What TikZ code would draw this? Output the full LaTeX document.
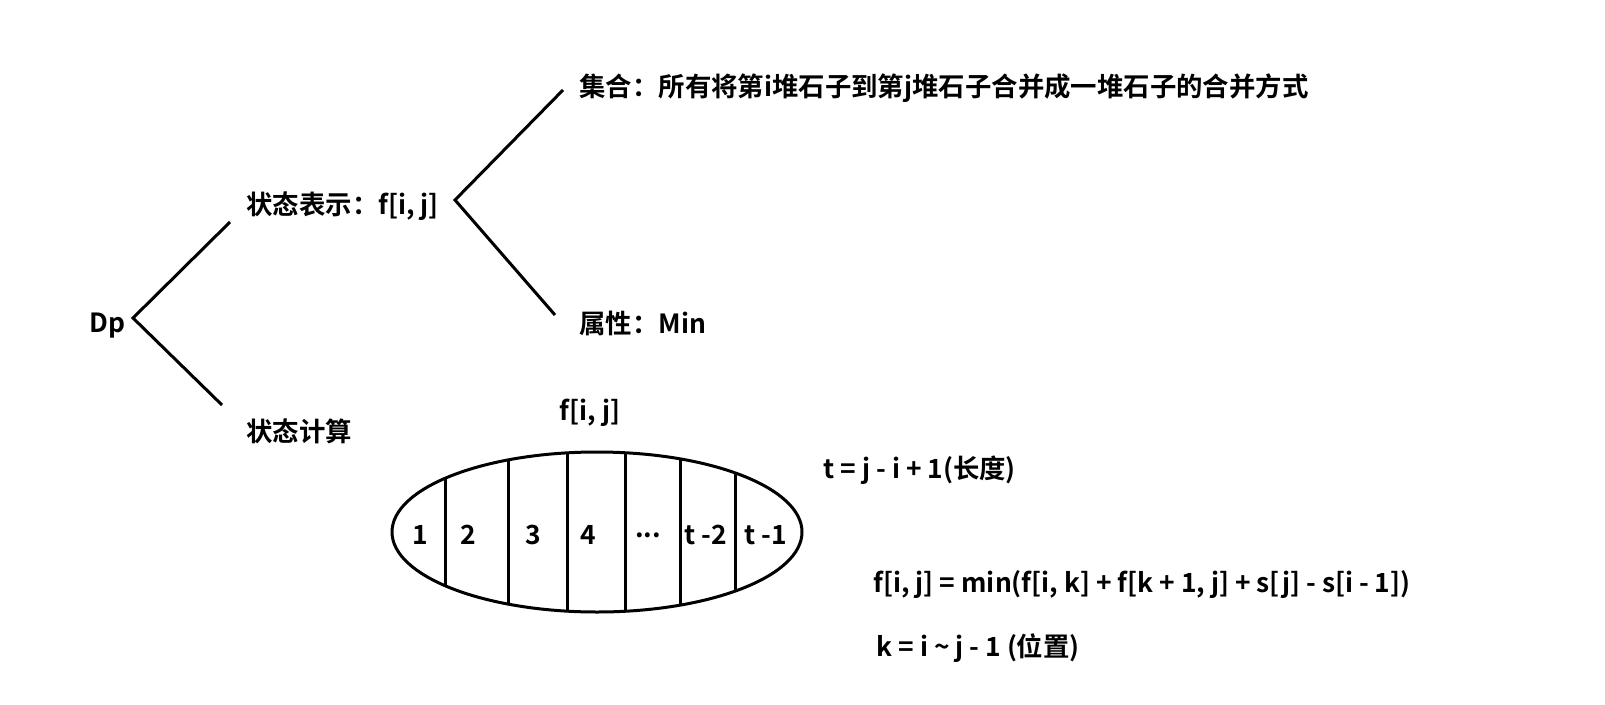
\documentclass[tikz,border=0pt]{standalone}
\usepackage{fontspec}
\setmainfont{Noto Sans CJK SC Bold}
\begin{document}
\begin{tikzpicture}[x=1pt,y=-1pt,line width=3pt,
  lbl/.style={anchor=west,inner sep=0pt,font=\fontsize{26.4}{30}\selectfont},
  num/.style={inner sep=0pt,font=\fontsize{26.4}{30}\selectfont}]
\useasboundingbox (0,0) rectangle (1605,704);
\node[lbl] (dp) at (88,326) {Dp};
\coordinate (r) at (133,318);
\coordinate (a1) at (230,222);
\coordinate (a2) at (222,405);
\draw (a1) -- (r) -- (a2);
\node[lbl] (rep) at (245,206) {状态表示：f[i, j]};
\node[lbl] (calc) at (245,431) {状态计算};
\coordinate (s) at (455,200);
\coordinate (b1) at (563,90);
\coordinate (b2) at (555,315);
\draw (b1) -- (s) -- (b2);
\node[lbl] (set) at (578,88) {集合：所有将第i堆石子到第j堆石子合并成一堆石子的合并方式};
\node[lbl] (attr) at (578,323) {属性：Min};
\node[num] (ft) at (590,413) {f[i, j]};
\begin{scope}
\clip (597,532) ellipse [x radius=205, y radius=80];
\foreach \x in {445,508,567,625,680,735} \draw (\x,440) -- (\x,620);
\end{scope}
\draw (597,532) ellipse [x radius=205, y radius=80];
\node[num] at (420,535) {1};
\node[num] at (468,535) {2};
\node[num] at (533,535) {3};
\node[num] at (588,535) {4};
\node[num] at (648,535) {...};
\node[num] at (706,535) {t -2};
\node[num] at (766,535) {t -1};
\node[lbl] (t) at (822,470) {t = j - i + 1(长度)};
\node[lbl] (f) at (872,585) {f[i, j] = min(f[i, k] + f[k + 1, j] + s[j] - s[i - 1])};
\node[lbl] (k) at (875,648) {k = i \textasciitilde{} j - 1 (位置)};
\end{tikzpicture}
\end{document}
